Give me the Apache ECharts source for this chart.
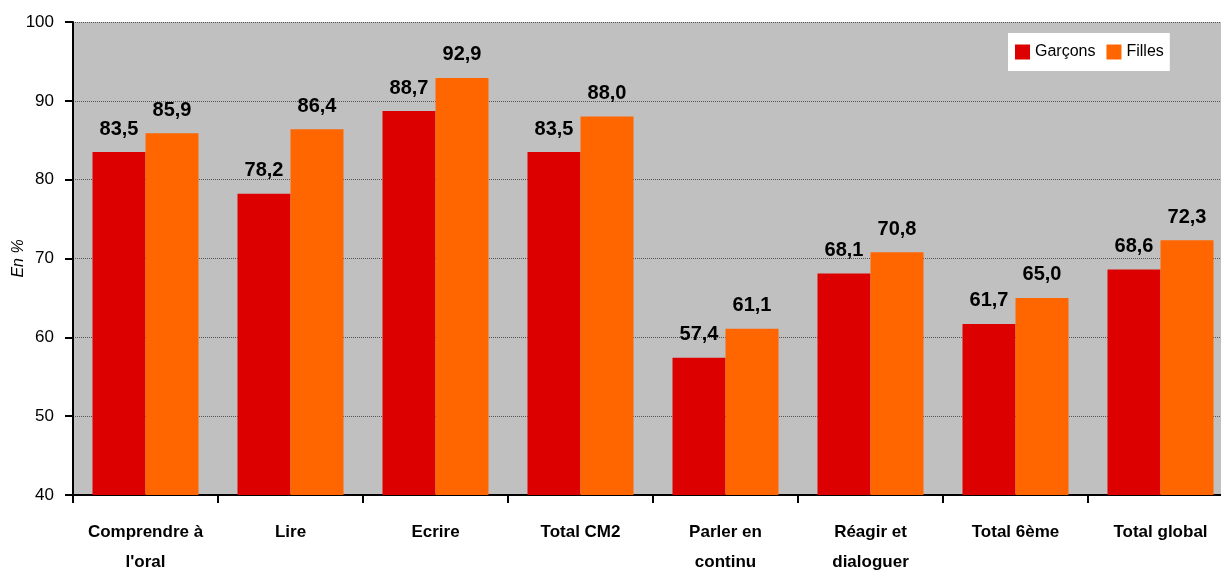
<!DOCTYPE html>
<html>
<head>
<meta charset="utf-8">
<script src="https://cdn.jsdelivr.net/npm/echarts@6/dist/echarts.min.js"></script>
<style>
  html, body { margin: 0; padding: 0; background: #fff; }
  #chart { width: 1221px; height: 571px; }
</style>
</head>
<body>
<div id="chart"></div>
<script>
// données
var categories = ["Comprendre à\nl'oral", "Lire", "Ecrire", "Total CM2", "Parler en\ncontinu", "Réagir et\ndialoguer", "Total 6ème", "Total global"];
var garcons = [83.5, 78.2, 88.7, 83.5, 57.4, 68.1, 61.7, 68.6];
var filles = [85.9, 86.4, 92.9, 88.0, 61.1, 70.8, 65.0, 72.3];
var seriesNames = ["Garçons", "Filles"];
var yTicks = [40, 50, 60, 70, 80, 90, 100];

var font = "'Liberation Sans', Arial, sans-serif";

var chart = echarts.init(document.getElementById("chart"));

function barLabel() {
  return {
    show: true,
    position: "top",
    distance: 13,
    fontFamily: font,
    fontWeight: "bold",
    fontSize: 20,
    color: "#000",
    formatter: function (p) {
      return p.value.toFixed(1).replace(".", ",");
    },
  };
}

chart.setOption({
  backgroundColor: "#fff",
  animation: false,
  grid: {
    left: 73,
    right: -12,
    top: 22,
    bottom: 76,
    outerBoundsMode: "none",
    show: true,
    backgroundColor: "#C0C0C0",
    borderWidth: 0,
  },
  legend: {
    data: seriesNames,
    left: 1008,
    top: 33,
    backgroundColor: "#fff",
    padding: [11, 6, 11, 7],
    itemWidth: 15,
    itemHeight: 15,
    itemGap: 11,
    icon: "rect",
    textStyle: {
      fontFamily: font,
      fontSize: 16,
      color: "#000",
    },
  },
  xAxis: {
    type: "category",
    data: categories,
    axisLine: { lineStyle: { color: "#000", width: 2 } },
    axisTick: { show: true, length: 8, lineStyle: { color: "#000", width: 2 } },
    axisLabel: {
      interval: 0,
      margin: 22,
      fontFamily: font,
      fontWeight: "bold",
      fontSize: 17,
      lineHeight: 30,
      color: "#000",
    },
  },
  yAxis: {
    type: "value",
    min: yTicks[0],
    max: yTicks[yTicks.length - 1],
    interval: 10,
    name: "En %",
    nameLocation: "middle",
    nameGap: 46,
    nameMoveOverlap: false,
    nameTextStyle: {
      fontFamily: font,
      fontStyle: "italic",
      fontSize: 16,
      color: "#000",
    },
    axisLine: { show: true, lineStyle: { color: "#000", width: 2 } },
    axisTick: { show: true, length: 8, lineStyle: { color: "#000", width: 2 } },
    axisLabel: {
      margin: 19,
      fontFamily: font,
      fontSize: 17,
      color: "#000",
    },
    splitLine: {
      show: true,
      lineStyle: { color: "#555", type: "dotted", width: 1 },
    },
  },
  series: [
    {
      name: seriesNames[0],
      type: "bar",
      data: garcons,
      barWidth: 53,
      barGap: "0%",
      itemStyle: { color: "#DD0000" },
      label: barLabel(),
    },
    {
      name: seriesNames[1],
      type: "bar",
      data: filles,
      barWidth: 53,
      barGap: "0%",
      itemStyle: { color: "#FF6600" },
      label: barLabel(),
    },
  ],
});
</script>
</body>
</html>
